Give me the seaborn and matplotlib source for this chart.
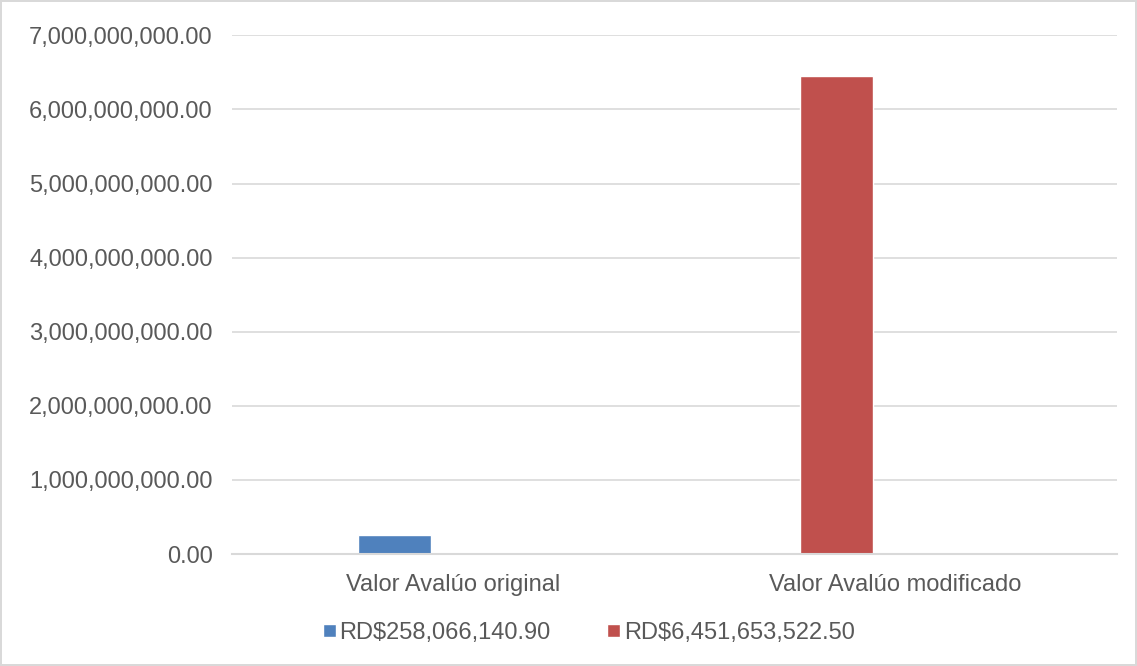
import pandas as pd
import seaborn as sns
import matplotlib.pyplot as plt
from matplotlib.ticker import FuncFormatter

categories = ["Valor Avalúo original", "Valor Avalúo modificado"]
series = ["RD$258,066,140.90", "RD$6,451,653,522.50"]
values = [258066140.90, 6451653522.50]
colors = ["#4F81BD", "#C0504D"]
yticks = [0, 1e9, 2e9, 3e9, 4e9, 5e9, 6e9, 7e9]

df = pd.DataFrame({"categoria": categories, "serie": series, "valor": values})

sns.set_style("white")
plt.rcParams["font.family"] = ["Liberation Sans", "DejaVu Sans"]
text_color = "#595959"

fig = plt.figure(figsize=(11.37, 6.66), dpi=100)
fig.patch.set_edgecolor("#D9D9D9")
fig.patch.set_linewidth(1.5)
ax = fig.add_axes([0.204, 0.168, 0.778, 0.779])

sns.barplot(data=df, x="categoria", y="valor", hue="serie", hue_order=series,
            palette=colors, dodge=False, width=0.165, saturation=1, ax=ax, legend=True)

# Excel-style cluster: bars sit left of the category centre
for p in ax.patches:
    p.set_x(p.get_x() - 0.133)

ax.set_ylim(0, 7e9)
ax.set_xlim(-0.5, 1.5)
ax.set_yticks(yticks)
ax.yaxis.set_major_formatter(FuncFormatter(lambda v, p: f"{v:,.2f}"))
ax.grid(axis="y", color="#D9D9D9", linewidth=1.2)
ax.set_axisbelow(True)
for s in ["top", "right", "left"]:
    ax.spines[s].set_visible(False)
ax.spines["bottom"].set_color("#D9D9D9")
ax.spines["bottom"].set_linewidth(1.5)
ax.tick_params(axis="both", length=0, labelsize=17, colors=text_color)
ax.tick_params(axis="y", pad=14)
ax.tick_params(axis="x", pad=14)
ax.set_xlabel("")
ax.set_ylabel("")

handles, labels = ax.get_legend_handles_labels()
ax.get_legend().remove()
fig.legend(handles, labels, loc="center", bbox_to_anchor=(0.518, 0.05), ncol=2,
           frameon=False, fontsize=17, labelcolor=text_color, handlelength=0.55,
           handleheight=0.5, handletextpad=0.15, columnspacing=2.4)

plt.savefig("out.png", dpi=100, edgecolor=fig.get_edgecolor())
plt.close()
